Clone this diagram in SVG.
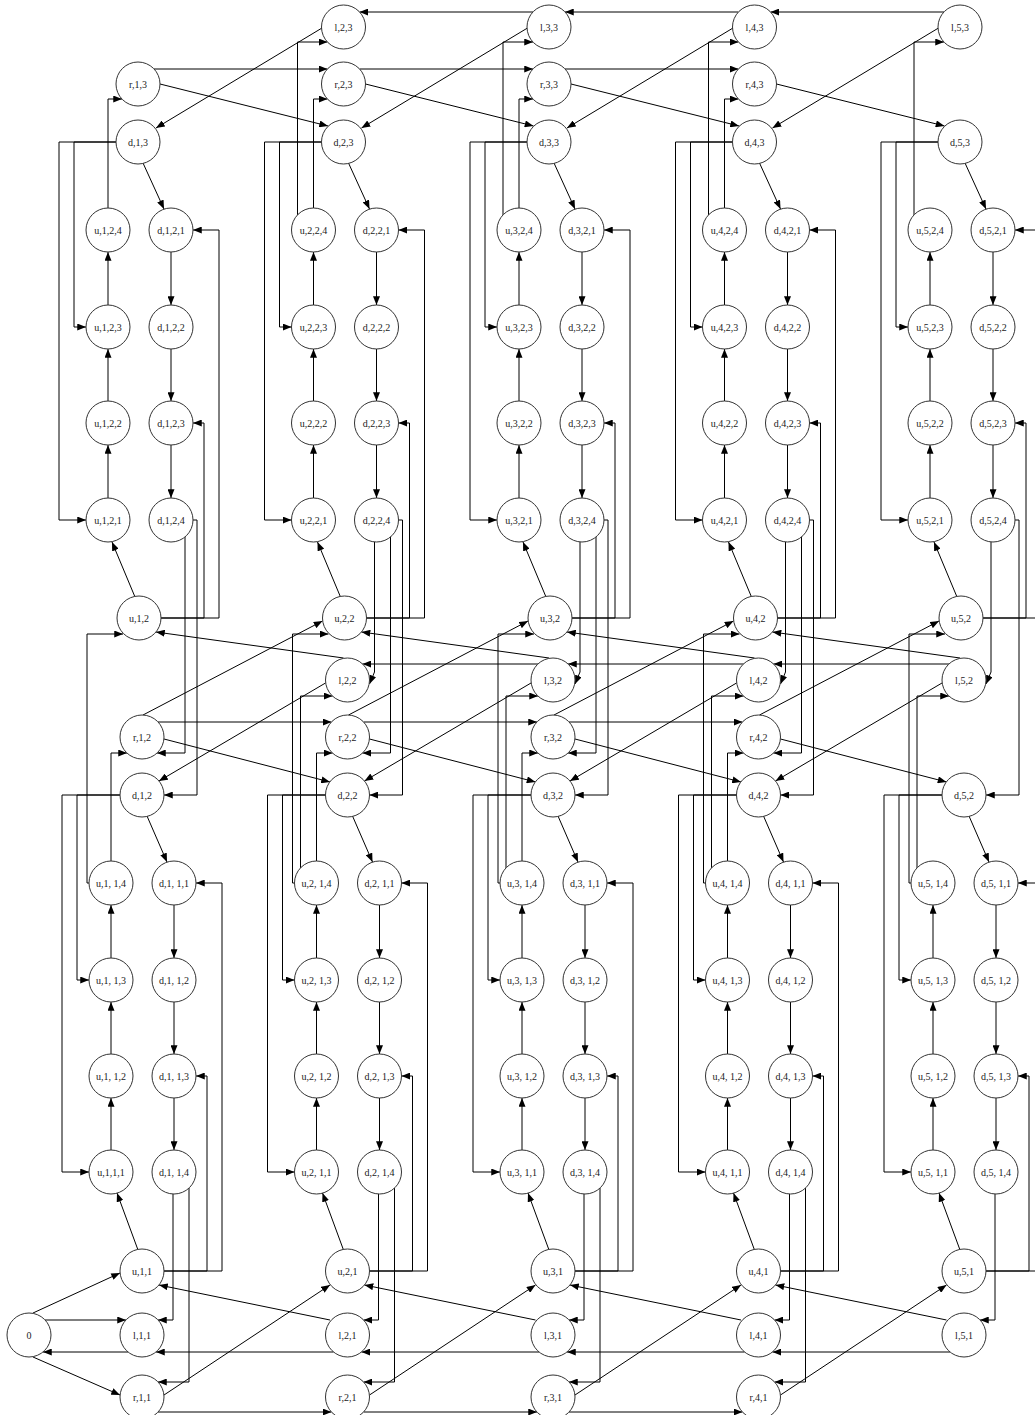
<svg xmlns="http://www.w3.org/2000/svg" width="1035" height="1415" viewBox="0 0 1035 1415">
<style>
.node circle{fill:#fff;stroke:#333;stroke-width:1}
.node text{font-family:"Liberation Serif","Times New Roman",serif;font-size:10px;fill:#1a1a1a;text-anchor:middle;dominant-baseline:central}
#connectors path{fill:none;stroke:#000;stroke-width:1;marker-end:url(#ah)}
</style>
<defs>
<marker id="ah" viewBox="0 0 10 8" refX="10" refY="4" markerWidth="9" markerHeight="7" markerUnits="userSpaceOnUse" orient="auto"><path d="M0,0L10,4L0,8z" fill="#000"/></marker>
</defs>
<rect width="1035" height="1415" fill="#fff"/>
<g id="connectors">
<g id="edges-col1">
<path d="M143,163L164,209"/><path d="M171,252V305"/><path d="M171,349V401"/><path d="M171,445V498"/>
<path d="M108,498V445"/><path d="M108,401V349"/><path d="M108,305V252"/>
<path d="M116,142H74V327H86"/><path d="M116,142H59V520H86"/><path d="M135,597L112,542"/>
<path d="M161,618H204V423H193"/><path d="M161,618H219V230H193"/><path d="M193,520H197V795H164"/>
<path d="M89,883H87V634H123"/><path d="M147,816L167,862"/><path d="M120,795H77V980H89"/><path d="M120,795H62V1172H89"/>
<path d="M174,905V958"/><path d="M174,1002V1054"/><path d="M174,1098V1150"/>
<path d="M111,1150V1098"/><path d="M111,1054V1002"/><path d="M111,958V905"/>
<path d="M138,1250L117,1193"/><path d="M164,1271H207V1076H196"/><path d="M164,1271H222V883H196"/><path d="M173,1194V1320H158"/>
<path d="M108,208V99H122"/><path d="M185,536V753H157"/><path d="M111,861V753H127"/><path d="M189,1188V1382H158"/>
<path d="M154,69H327.5"/><path d="M160,84L328,126"/><path d="M322,28L156,128"/>
<path d="M158,722H331.5"/><path d="M143,715L322.5,621"/><path d="M164,739L330,782"/><path d="M325.5,683L159,781"/><path d="M343.5,658L156,632"/>
<path d="M333.5,1352H156"/><path d="M330,1320L159,1285"/><path d="M164,1395L330,1285"/><path d="M158,1412H331.5"/>
<path d="M33,1313L120,1273"/><path d="M45,1320H126"/><path d="M33,1357L120,1395"/><path d="M128,1352H43"/>
</g>
<g id="edges-col2" transform="translate(205.5,0)">
<path d="M143,163L164,209"/><path d="M171,252V305"/><path d="M171,349V401"/><path d="M171,445V498"/>
<path d="M108,498V445"/><path d="M108,401V349"/><path d="M108,305V252"/>
<path d="M116,142H74V327H86"/><path d="M116,142H59V520H86"/><path d="M135,597L112,542"/>
<path d="M161,618H204V423H193"/><path d="M161,618H219V230H193"/><path d="M193,520H197V795H164"/>
<path d="M89,883H87V634H123"/><path d="M147,816L167,862"/><path d="M120,795H77V980H89"/><path d="M120,795H62V1172H89"/>
<path d="M174,905V958"/><path d="M174,1002V1054"/><path d="M174,1098V1150"/>
<path d="M111,1150V1098"/><path d="M111,1054V1002"/><path d="M111,958V905"/>
<path d="M138,1250L117,1193"/><path d="M164,1271H207V1076H196"/><path d="M164,1271H222V883H196"/><path d="M173,1194V1320H158"/>
<path d="M108,208V99H122"/><path d="M92,215V42H122"/><path d="M185,536V753H157"/><path d="M169,542V672L164,684"/><path d="M95,868V696H127"/><path d="M111,861V753H127"/><path d="M189,1188V1382H158"/>
<path d="M154,69H327.5"/><path d="M160,84L328,126"/><path d="M322,28L156,128"/><path d="M327.5,12H154"/>
<path d="M158,722H331.5"/><path d="M143,715L322.5,621"/><path d="M164,739L330,782"/><path d="M325.5,683L159,781"/><path d="M343.5,658L156,632"/><path d="M332.5,664H157"/>
<path d="M333.5,1352H156"/><path d="M330,1320L159,1285"/><path d="M164,1395L330,1285"/><path d="M158,1412H331.5"/>
</g>
<g id="edges-col3" transform="translate(411,0)">
<path d="M143,163L164,209"/><path d="M171,252V305"/><path d="M171,349V401"/><path d="M171,445V498"/>
<path d="M108,498V445"/><path d="M108,401V349"/><path d="M108,305V252"/>
<path d="M116,142H74V327H86"/><path d="M116,142H59V520H86"/><path d="M135,597L112,542"/>
<path d="M161,618H204V423H193"/><path d="M161,618H219V230H193"/><path d="M193,520H197V795H164"/>
<path d="M89,883H87V634H123"/><path d="M147,816L167,862"/><path d="M120,795H77V980H89"/><path d="M120,795H62V1172H89"/>
<path d="M174,905V958"/><path d="M174,1002V1054"/><path d="M174,1098V1150"/>
<path d="M111,1150V1098"/><path d="M111,1054V1002"/><path d="M111,958V905"/>
<path d="M138,1250L117,1193"/><path d="M164,1271H207V1076H196"/><path d="M164,1271H222V883H196"/><path d="M173,1194V1320H158"/>
<path d="M108,208V99H122"/><path d="M92,215V42H122"/><path d="M185,536V753H157"/><path d="M169,542V672L164,684"/><path d="M95,868V696H127"/><path d="M111,861V753H127"/><path d="M189,1188V1382H158"/>
<path d="M154,69H327.5"/><path d="M160,84L328,126"/><path d="M322,28L156,128"/><path d="M327.5,12H154"/>
<path d="M158,722H331.5"/><path d="M143,715L322.5,621"/><path d="M164,739L330,782"/><path d="M325.5,683L159,781"/><path d="M343.5,658L156,632"/><path d="M332.5,664H157"/>
<path d="M333.5,1352H156"/><path d="M330,1320L159,1285"/><path d="M164,1395L330,1285"/><path d="M158,1412H331.5"/>
</g>
<g id="edges-col4" transform="translate(616.5,0)">
<path d="M143,163L164,209"/><path d="M171,252V305"/><path d="M171,349V401"/><path d="M171,445V498"/>
<path d="M108,498V445"/><path d="M108,401V349"/><path d="M108,305V252"/>
<path d="M116,142H74V327H86"/><path d="M116,142H59V520H86"/><path d="M135,597L112,542"/>
<path d="M161,618H204V423H193"/><path d="M161,618H219V230H193"/><path d="M193,520H197V795H164"/>
<path d="M89,883H87V634H123"/><path d="M147,816L167,862"/><path d="M120,795H77V980H89"/><path d="M120,795H62V1172H89"/>
<path d="M174,905V958"/><path d="M174,1002V1054"/><path d="M174,1098V1150"/>
<path d="M111,1150V1098"/><path d="M111,1054V1002"/><path d="M111,958V905"/>
<path d="M138,1250L117,1193"/><path d="M164,1271H207V1076H196"/><path d="M164,1271H222V883H196"/><path d="M173,1194V1320H158"/>
<path d="M108,208V99H122"/><path d="M92,215V42H122"/><path d="M185,536V753H157"/><path d="M169,542V672L164,684"/><path d="M95,868V696H127"/><path d="M111,861V753H127"/><path d="M189,1188V1382H158"/>
<path d="M160,84L328,126"/><path d="M322,28L156,128"/><path d="M327.5,12H154"/>
<path d="M143,715L322.5,621"/><path d="M164,739L330,782"/><path d="M325.5,683L159,781"/><path d="M343.5,658L156,632"/><path d="M332.5,664H157"/>
<path d="M333.5,1352H156"/><path d="M330,1320L159,1285"/><path d="M164,1395L330,1285"/>
</g>
<g id="edges-col5" transform="translate(822,0)">
<path d="M143,163L164,209"/><path d="M171,252V305"/><path d="M171,349V401"/><path d="M171,445V498"/>
<path d="M108,498V445"/><path d="M108,401V349"/><path d="M108,305V252"/>
<path d="M116,142H74V327H86"/><path d="M116,142H59V520H86"/><path d="M135,597L112,542"/>
<path d="M161,618H204V423H193"/><path d="M161,618H219V230H193"/><path d="M193,520H197V795H164"/>
<path d="M89,883H87V634H123"/><path d="M147,816L167,862"/><path d="M120,795H77V980H89"/><path d="M120,795H62V1172H89"/>
<path d="M174,905V958"/><path d="M174,1002V1054"/><path d="M174,1098V1150"/>
<path d="M111,1150V1098"/><path d="M111,1054V1002"/><path d="M111,958V905"/>
<path d="M138,1250L117,1193"/><path d="M164,1271H207V1076H196"/><path d="M164,1271H222V883H196"/><path d="M173,1194V1320H158"/>
<path d="M92,215V42H122"/><path d="M169,542V672L164,684"/><path d="M95,868V696H127"/>
</g>
</g>
<g id="nodes">
<g id="n_l_2_3" class="node" transform="translate(343.5,27)"><circle r="22"/><text>l,2,3</text></g>
<g id="n_l_3_3" class="node" transform="translate(549,27)"><circle r="22"/><text>l,3,3</text></g>
<g id="n_l_4_3" class="node" transform="translate(754.5,27)"><circle r="22"/><text>l,4,3</text></g>
<g id="n_l_5_3" class="node" transform="translate(960,27)"><circle r="22"/><text>l,5,3</text></g>
<g id="n_r_1_3" class="node" transform="translate(138,84)"><circle r="22"/><text>r,1,3</text></g>
<g id="n_r_2_3" class="node" transform="translate(343.5,84)"><circle r="22"/><text>r,2,3</text></g>
<g id="n_r_3_3" class="node" transform="translate(549,84)"><circle r="22"/><text>r,3,3</text></g>
<g id="n_r_4_3" class="node" transform="translate(754.5,84)"><circle r="22"/><text>r,4,3</text></g>
<g id="n_d_1_3" class="node" transform="translate(138,142)"><circle r="22"/><text>d,1,3</text></g>
<g id="n_d_2_3" class="node" transform="translate(343.5,142)"><circle r="22"/><text>d,2,3</text></g>
<g id="n_d_3_3" class="node" transform="translate(549,142)"><circle r="22"/><text>d,3,3</text></g>
<g id="n_d_4_3" class="node" transform="translate(754.5,142)"><circle r="22"/><text>d,4,3</text></g>
<g id="n_d_5_3" class="node" transform="translate(960,142)"><circle r="22"/><text>d,5,3</text></g>

<g id="n_u_1_2_4" class="node" transform="translate(108,230)"><circle r="22"/><text>u,1,2,4</text></g>
<g id="n_u_1_2_3" class="node" transform="translate(108,327)"><circle r="22"/><text>u,1,2,3</text></g>
<g id="n_u_1_2_2" class="node" transform="translate(108,423)"><circle r="22"/><text>u,1,2,2</text></g>
<g id="n_u_1_2_1" class="node" transform="translate(108,520)"><circle r="22"/><text>u,1,2,1</text></g>
<g id="n_d_1_2_1" class="node" transform="translate(171,230)"><circle r="22"/><text>d,1,2,1</text></g>
<g id="n_d_1_2_2" class="node" transform="translate(171,327)"><circle r="22"/><text>d,1,2,2</text></g>
<g id="n_d_1_2_3" class="node" transform="translate(171,423)"><circle r="22"/><text>d,1,2,3</text></g>
<g id="n_d_1_2_4" class="node" transform="translate(171,520)"><circle r="22"/><text>d,1,2,4</text></g>
<g id="n_u_2_2_4" class="node" transform="translate(313.5,230)"><circle r="22"/><text>u,2,2,4</text></g>
<g id="n_u_2_2_3" class="node" transform="translate(313.5,327)"><circle r="22"/><text>u,2,2,3</text></g>
<g id="n_u_2_2_2" class="node" transform="translate(313.5,423)"><circle r="22"/><text>u,2,2,2</text></g>
<g id="n_u_2_2_1" class="node" transform="translate(313.5,520)"><circle r="22"/><text>u,2,2,1</text></g>
<g id="n_d_2_2_1" class="node" transform="translate(376.5,230)"><circle r="22"/><text>d,2,2,1</text></g>
<g id="n_d_2_2_2" class="node" transform="translate(376.5,327)"><circle r="22"/><text>d,2,2,2</text></g>
<g id="n_d_2_2_3" class="node" transform="translate(376.5,423)"><circle r="22"/><text>d,2,2,3</text></g>
<g id="n_d_2_2_4" class="node" transform="translate(376.5,520)"><circle r="22"/><text>d,2,2,4</text></g>
<g id="n_u_3_2_4" class="node" transform="translate(519,230)"><circle r="22"/><text>u,3,2,4</text></g>
<g id="n_u_3_2_3" class="node" transform="translate(519,327)"><circle r="22"/><text>u,3,2,3</text></g>
<g id="n_u_3_2_2" class="node" transform="translate(519,423)"><circle r="22"/><text>u,3,2,2</text></g>
<g id="n_u_3_2_1" class="node" transform="translate(519,520)"><circle r="22"/><text>u,3,2,1</text></g>
<g id="n_d_3_2_1" class="node" transform="translate(582,230)"><circle r="22"/><text>d,3,2,1</text></g>
<g id="n_d_3_2_2" class="node" transform="translate(582,327)"><circle r="22"/><text>d,3,2,2</text></g>
<g id="n_d_3_2_3" class="node" transform="translate(582,423)"><circle r="22"/><text>d,3,2,3</text></g>
<g id="n_d_3_2_4" class="node" transform="translate(582,520)"><circle r="22"/><text>d,3,2,4</text></g>
<g id="n_u_4_2_4" class="node" transform="translate(724.5,230)"><circle r="22"/><text>u,4,2,4</text></g>
<g id="n_u_4_2_3" class="node" transform="translate(724.5,327)"><circle r="22"/><text>u,4,2,3</text></g>
<g id="n_u_4_2_2" class="node" transform="translate(724.5,423)"><circle r="22"/><text>u,4,2,2</text></g>
<g id="n_u_4_2_1" class="node" transform="translate(724.5,520)"><circle r="22"/><text>u,4,2,1</text></g>
<g id="n_d_4_2_1" class="node" transform="translate(787.5,230)"><circle r="22"/><text>d,4,2,1</text></g>
<g id="n_d_4_2_2" class="node" transform="translate(787.5,327)"><circle r="22"/><text>d,4,2,2</text></g>
<g id="n_d_4_2_3" class="node" transform="translate(787.5,423)"><circle r="22"/><text>d,4,2,3</text></g>
<g id="n_d_4_2_4" class="node" transform="translate(787.5,520)"><circle r="22"/><text>d,4,2,4</text></g>
<g id="n_u_5_2_4" class="node" transform="translate(930,230)"><circle r="22"/><text>u,5,2,4</text></g>
<g id="n_u_5_2_3" class="node" transform="translate(930,327)"><circle r="22"/><text>u,5,2,3</text></g>
<g id="n_u_5_2_2" class="node" transform="translate(930,423)"><circle r="22"/><text>u,5,2,2</text></g>
<g id="n_u_5_2_1" class="node" transform="translate(930,520)"><circle r="22"/><text>u,5,2,1</text></g>
<g id="n_d_5_2_1" class="node" transform="translate(993,230)"><circle r="22"/><text>d,5,2,1</text></g>
<g id="n_d_5_2_2" class="node" transform="translate(993,327)"><circle r="22"/><text>d,5,2,2</text></g>
<g id="n_d_5_2_3" class="node" transform="translate(993,423)"><circle r="22"/><text>d,5,2,3</text></g>
<g id="n_d_5_2_4" class="node" transform="translate(993,520)"><circle r="22"/><text>d,5,2,4</text></g>

<g id="n_u_1_2" class="node" transform="translate(139,618)"><circle r="22"/><text>u,1,2</text></g>
<g id="n_u_2_2" class="node" transform="translate(344.5,618)"><circle r="22"/><text>u,2,2</text></g>
<g id="n_u_3_2" class="node" transform="translate(550,618)"><circle r="22"/><text>u,3,2</text></g>
<g id="n_u_4_2" class="node" transform="translate(755.5,618)"><circle r="22"/><text>u,4,2</text></g>
<g id="n_u_5_2" class="node" transform="translate(961,618)"><circle r="22"/><text>u,5,2</text></g>
<g id="n_l_2_2" class="node" transform="translate(347.5,680)"><circle r="22"/><text>l,2,2</text></g>
<g id="n_l_3_2" class="node" transform="translate(553,680)"><circle r="22"/><text>l,3,2</text></g>
<g id="n_l_4_2" class="node" transform="translate(758.5,680)"><circle r="22"/><text>l,4,2</text></g>
<g id="n_l_5_2" class="node" transform="translate(964,680)"><circle r="22"/><text>l,5,2</text></g>
<g id="n_r_1_2" class="node" transform="translate(142,737)"><circle r="22"/><text>r,1,2</text></g>
<g id="n_r_2_2" class="node" transform="translate(347.5,737)"><circle r="22"/><text>r,2,2</text></g>
<g id="n_r_3_2" class="node" transform="translate(553,737)"><circle r="22"/><text>r,3,2</text></g>
<g id="n_r_4_2" class="node" transform="translate(758.5,737)"><circle r="22"/><text>r,4,2</text></g>
<g id="n_d_1_2" class="node" transform="translate(142,795)"><circle r="22"/><text>d,1,2</text></g>
<g id="n_d_2_2" class="node" transform="translate(347.5,795)"><circle r="22"/><text>d,2,2</text></g>
<g id="n_d_3_2" class="node" transform="translate(553,795)"><circle r="22"/><text>d,3,2</text></g>
<g id="n_d_4_2" class="node" transform="translate(758.5,795)"><circle r="22"/><text>d,4,2</text></g>
<g id="n_d_5_2" class="node" transform="translate(964,795)"><circle r="22"/><text>d,5,2</text></g>

<g id="n_u_1_1_4" class="node" transform="translate(111,883)"><circle r="22"/><text>u,1, 1,4</text></g>
<g id="n_u_1_1_3" class="node" transform="translate(111,980)"><circle r="22"/><text>u,1, 1,3</text></g>
<g id="n_u_1_1_2" class="node" transform="translate(111,1076)"><circle r="22"/><text>u,1, 1,2</text></g>
<g id="n_u_1_1_1" class="node" transform="translate(111,1172)"><circle r="22"/><text>u,1,1,1</text></g>
<g id="n_d_1_1_1" class="node" transform="translate(174,883)"><circle r="22"/><text>d,1, 1,1</text></g>
<g id="n_d_1_1_2" class="node" transform="translate(174,980)"><circle r="22"/><text>d,1, 1,2</text></g>
<g id="n_d_1_1_3" class="node" transform="translate(174,1076)"><circle r="22"/><text>d,1, 1,3</text></g>
<g id="n_d_1_1_4" class="node" transform="translate(174,1172)"><circle r="22"/><text>d,1, 1,4</text></g>
<g id="n_u_2_1_4" class="node" transform="translate(316.5,883)"><circle r="22"/><text>u,2, 1,4</text></g>
<g id="n_u_2_1_3" class="node" transform="translate(316.5,980)"><circle r="22"/><text>u,2, 1,3</text></g>
<g id="n_u_2_1_2" class="node" transform="translate(316.5,1076)"><circle r="22"/><text>u,2, 1,2</text></g>
<g id="n_u_2_1_1" class="node" transform="translate(316.5,1172)"><circle r="22"/><text>u,2, 1,1</text></g>
<g id="n_d_2_1_1" class="node" transform="translate(379.5,883)"><circle r="22"/><text>d,2, 1,1</text></g>
<g id="n_d_2_1_2" class="node" transform="translate(379.5,980)"><circle r="22"/><text>d,2, 1,2</text></g>
<g id="n_d_2_1_3" class="node" transform="translate(379.5,1076)"><circle r="22"/><text>d,2, 1,3</text></g>
<g id="n_d_2_1_4" class="node" transform="translate(379.5,1172)"><circle r="22"/><text>d,2, 1,4</text></g>
<g id="n_u_3_1_4" class="node" transform="translate(522,883)"><circle r="22"/><text>u,3, 1,4</text></g>
<g id="n_u_3_1_3" class="node" transform="translate(522,980)"><circle r="22"/><text>u,3, 1,3</text></g>
<g id="n_u_3_1_2" class="node" transform="translate(522,1076)"><circle r="22"/><text>u,3, 1,2</text></g>
<g id="n_u_3_1_1" class="node" transform="translate(522,1172)"><circle r="22"/><text>u,3, 1,1</text></g>
<g id="n_d_3_1_1" class="node" transform="translate(585,883)"><circle r="22"/><text>d,3, 1,1</text></g>
<g id="n_d_3_1_2" class="node" transform="translate(585,980)"><circle r="22"/><text>d,3, 1,2</text></g>
<g id="n_d_3_1_3" class="node" transform="translate(585,1076)"><circle r="22"/><text>d,3, 1,3</text></g>
<g id="n_d_3_1_4" class="node" transform="translate(585,1172)"><circle r="22"/><text>d,3, 1,4</text></g>
<g id="n_u_4_1_4" class="node" transform="translate(727.5,883)"><circle r="22"/><text>u,4, 1,4</text></g>
<g id="n_u_4_1_3" class="node" transform="translate(727.5,980)"><circle r="22"/><text>u,4, 1,3</text></g>
<g id="n_u_4_1_2" class="node" transform="translate(727.5,1076)"><circle r="22"/><text>u,4, 1,2</text></g>
<g id="n_u_4_1_1" class="node" transform="translate(727.5,1172)"><circle r="22"/><text>u,4, 1,1</text></g>
<g id="n_d_4_1_1" class="node" transform="translate(790.5,883)"><circle r="22"/><text>d,4, 1,1</text></g>
<g id="n_d_4_1_2" class="node" transform="translate(790.5,980)"><circle r="22"/><text>d,4, 1,2</text></g>
<g id="n_d_4_1_3" class="node" transform="translate(790.5,1076)"><circle r="22"/><text>d,4, 1,3</text></g>
<g id="n_d_4_1_4" class="node" transform="translate(790.5,1172)"><circle r="22"/><text>d,4, 1,4</text></g>
<g id="n_u_5_1_4" class="node" transform="translate(933,883)"><circle r="22"/><text>u,5, 1,4</text></g>
<g id="n_u_5_1_3" class="node" transform="translate(933,980)"><circle r="22"/><text>u,5, 1,3</text></g>
<g id="n_u_5_1_2" class="node" transform="translate(933,1076)"><circle r="22"/><text>u,5, 1,2</text></g>
<g id="n_u_5_1_1" class="node" transform="translate(933,1172)"><circle r="22"/><text>u,5, 1,1</text></g>
<g id="n_d_5_1_1" class="node" transform="translate(996,883)"><circle r="22"/><text>d,5, 1,1</text></g>
<g id="n_d_5_1_2" class="node" transform="translate(996,980)"><circle r="22"/><text>d,5, 1,2</text></g>
<g id="n_d_5_1_3" class="node" transform="translate(996,1076)"><circle r="22"/><text>d,5, 1,3</text></g>
<g id="n_d_5_1_4" class="node" transform="translate(996,1172)"><circle r="22"/><text>d,5, 1,4</text></g>

<g id="n_u_1_1" class="node" transform="translate(142,1271)"><circle r="22"/><text>u,1,1</text></g>
<g id="n_u_2_1" class="node" transform="translate(347.5,1271)"><circle r="22"/><text>u,2,1</text></g>
<g id="n_u_3_1" class="node" transform="translate(553,1271)"><circle r="22"/><text>u,3,1</text></g>
<g id="n_u_4_1" class="node" transform="translate(758.5,1271)"><circle r="22"/><text>u,4,1</text></g>
<g id="n_u_5_1" class="node" transform="translate(964,1271)"><circle r="22"/><text>u,5,1</text></g>
<g id="n_l_1_1" class="node" transform="translate(142,1335)"><circle r="22"/><text>l,1,1</text></g>
<g id="n_l_2_1" class="node" transform="translate(347.5,1335)"><circle r="22"/><text>l,2,1</text></g>
<g id="n_l_3_1" class="node" transform="translate(553,1335)"><circle r="22"/><text>l,3,1</text></g>
<g id="n_l_4_1" class="node" transform="translate(758.5,1335)"><circle r="22"/><text>l,4,1</text></g>
<g id="n_l_5_1" class="node" transform="translate(964,1335)"><circle r="22"/><text>l,5,1</text></g>
<g id="n_r_1_1" class="node" transform="translate(142,1397)"><circle r="22"/><text>r,1,1</text></g>
<g id="n_r_2_1" class="node" transform="translate(347.5,1397)"><circle r="22"/><text>r,2,1</text></g>
<g id="n_r_3_1" class="node" transform="translate(553,1397)"><circle r="22"/><text>r,3,1</text></g>
<g id="n_r_4_1" class="node" transform="translate(758.5,1397)"><circle r="22"/><text>r,4,1</text></g>
<g id="n_0" class="node" transform="translate(29,1335)"><circle r="22"/><text>0</text></g>
</g>
</svg>
